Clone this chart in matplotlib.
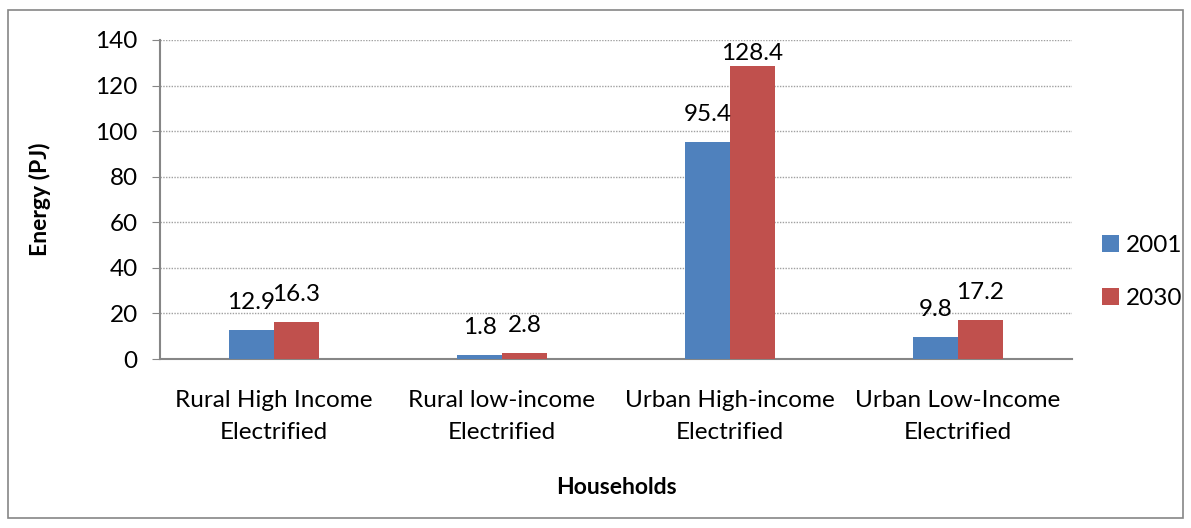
import numpy as np
import matplotlib.pyplot as plt
from matplotlib.patches import Rectangle

plt.rcParams['font.family'] = ['Lato', 'DejaVu Sans']

categories = ["Rural High Income\nElectrified", "Rural low-income\nElectrified",
              "Urban High-income\nElectrified", "Urban Low-Income\nElectrified"]
years = ["2001", "2030"]
energy_2001 = [12.9, 1.8, 95.4, 9.8]
energy_2030 = [16.3, 2.8, 128.4, 17.2]
yticks = [0, 20, 40, 60, 80, 100, 120, 140]

colors = ["#4f81bd", "#c0504d"]
fs = 17.5

fig = plt.figure(figsize=(11.91, 5.28), dpi=100)
ax = fig.add_axes([160 / 1191, 1 - 359 / 528, 912 / 1191, 319 / 528])

x = np.arange(len(categories))
w = 0.197
b1 = ax.bar(x - w / 2, energy_2001, w, color=colors[0], label=years[0], zorder=3)
b2 = ax.bar(x + w / 2, energy_2030, w, color=colors[1], label=years[1], zorder=3)

# value labels above each bar, kept inside the plot area
for bars in (b1, b2):
    for rect in bars:
        h = rect.get_height()
        y = min(h + 12, 134)
        ax.text(rect.get_x() + rect.get_width() / 2, y, f"{h:.1f}",
                ha="center", va="center", fontsize=fs)

ax.set_xlim(-0.5, len(categories) - 0.5)
ax.set_ylim(0, 140)
ax.set_yticks(yticks)
ax.set_xticks(x)
ax.set_xticklabels(categories, fontsize=fs, linespacing=1.65)
ax.tick_params(axis="y", labelsize=fs, length=6, color="#868686", pad=10)
ax.tick_params(axis="x", length=0, pad=22)
ax.grid(axis="y", color="#a0a0a0", linestyle=(0, (1, 1)), linewidth=1, zorder=0)
ax.set_axisbelow(True)

for side in ("top", "right"):
    ax.spines[side].set_visible(False)
for side in ("left", "bottom"):
    ax.spines[side].set_color("#868686")
    ax.spines[side].set_linewidth(1.5)

ax.set_ylabel("Energy (PJ)", fontsize=fs - 1, fontweight="bold", labelpad=32)
ax.set_xlabel("Households", fontsize=fs - 1, fontweight="bold", labelpad=25)

ax.legend(loc="center left", bbox_to_anchor=(1.022, 0.273), frameon=False,
          borderaxespad=0, fontsize=fs, handlelength=0.7, handleheight=0.7,
          labelspacing=1.3, handletextpad=0.3)

fig.patches.append(Rectangle((8 / 1191, 10 / 528), 1 - 16 / 1191, 1 - 20 / 528,
                             transform=fig.transFigure, fill=False,
                             edgecolor="#868686", linewidth=1.2))

fig.savefig("out.png", dpi=100)
